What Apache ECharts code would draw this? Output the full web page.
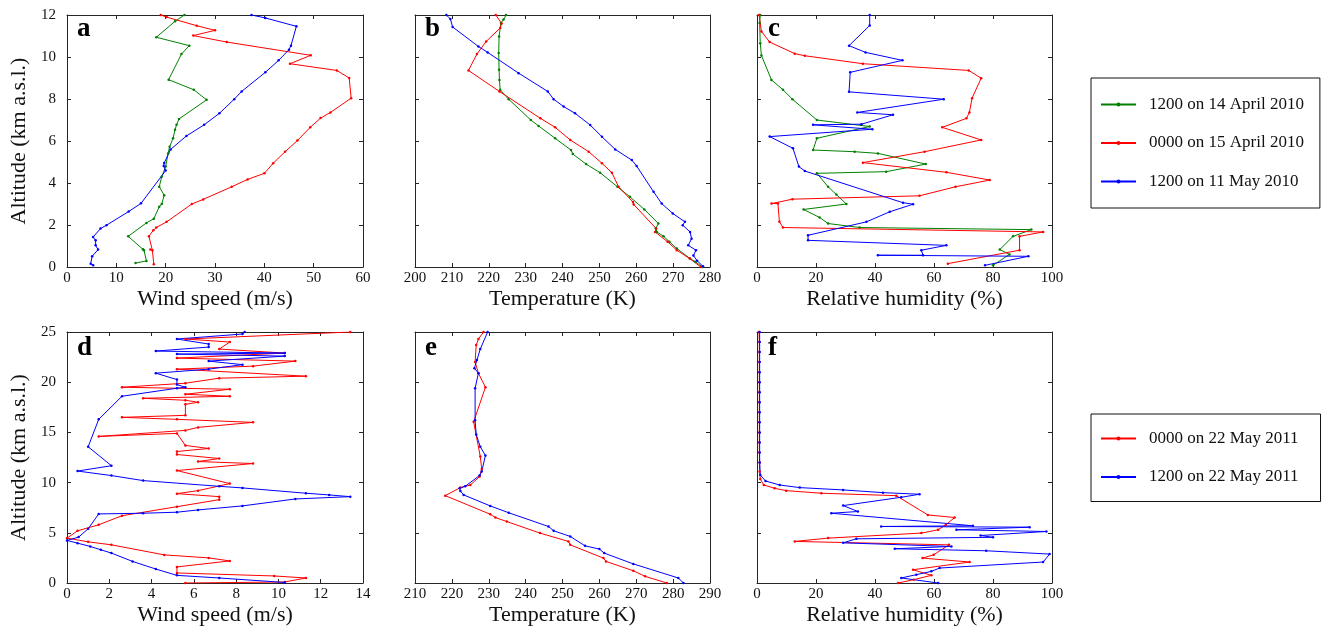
<!DOCTYPE html>
<html><head><meta charset="utf-8">
<script src="https://cdn.jsdelivr.net/npm/echarts@6/dist/echarts.min.js"></script>
<style>html,body{margin:0;padding:0;background:#fff}#c{width:1323px;height:628px}</style>
</head><body><div id="c"></div>
<script>
// ---------- legend names ----------
const names2010 = ['1200 on 14 April 2010', '0000 on 15 April 2010', '1200 on 11 May 2010'];
const names2011 = ['0000 on 22 May 2011', '1200 on 22 May 2011'];
const panelLetters = ['a', 'b', 'c', 'd', 'e', 'f'];
const xNames = ['Wind speed (m/s)', 'Temperature (K)', 'Relative humidity (%)', 'Wind speed (m/s)', 'Temperature (K)', 'Relative humidity (%)'];
const yName = 'Altitude (km a.s.l.)';
// [min, max, interval]
const xRanges = [[0, 60, 10], [200, 280, 10], [0, 100, 20], [0, 14, 2], [210, 290, 10], [0, 100, 20]];
const yRangeTop = [0, 12, 2];
const yRangeBottom = [0, 25, 5];

// ---------- panel a: wind speed (m/s), altitude (km) ----------
const windA_1404 = [[13.9,0.19],[16.1,0.29],[15.6,0.8],[15.4,0.85],[12.4,1.46],[16.1,2.1],[17.6,2.3],[18.7,2.87],[19.2,3.0],[19.7,3.42],[18.7,3.82],[19.2,4.3],[20.0,4.78],[20.5,5.41],[20.8,5.73],[21.5,6.13],[21.9,6.53],[22.2,6.77],[22.7,7.05],[28.3,7.96],[25.7,8.44],[20.6,8.92],[23.2,10.14],[24.8,10.54],[18.1,10.94],[21.9,11.7],[23.8,12.0]];
const windA_1504 = [[17.6,0.13],[17.3,0.8],[16.9,0.83],[16.6,1.46],[17.5,1.75],[18.1,1.88],[20.2,2.15],[25.3,3.0],[27.6,3.22],[33.4,3.82],[36.6,4.17],[40.0,4.46],[41.8,4.94],[44.2,5.49],[46.7,6.02],[49.3,6.65],[51.4,7.09],[53.4,7.36],[57.6,8.04],[57.2,9.0],[54.7,9.36],[45.2,9.68],[49.4,10.08],[32.4,10.71],[25.6,11.02],[30.0,11.27],[26.3,11.49],[20.2,11.9],[19.0,12.0]];
const windA_1105 = [[5.3,0.08],[4.8,0.16],[5.1,0.51],[6.3,0.83],[5.8,1.03],[5.8,1.27],[5.3,1.43],[6.8,1.83],[8.0,1.99],[12.5,2.64],[15.0,3.03],[20.0,4.59],[19.6,4.81],[19.7,4.95],[21.0,5.6],[24.2,6.24],[27.8,6.77],[30.9,7.32],[33.9,7.99],[35.4,8.36],[40.2,9.27],[42.9,9.84],[45.0,10.35],[45.4,10.54],[46.5,11.46],[40.2,11.86],[37.4,12.0]];

// ---------- panel b: temperature (K) ----------
const tempB_1404 = [[278.0,0.0],[276.0,0.25],[274.6,0.4],[271.0,0.88],[269.0,1.2],[267.4,1.46],[265.6,1.67],[265.3,1.85],[266.0,2.07],[262.2,2.74],[258.3,3.34],[254.9,3.82],[250.2,4.49],[246.4,4.9],[242.8,5.38],[242.3,5.57],[238.0,6.13],[233.5,6.72],[231.4,7.0],[225.4,7.99],[223.1,8.44],[222.9,8.91],[222.8,9.39],[222.7,10.19],[222.8,10.98],[223.3,11.62],[224.0,11.78],[224.7,12.0]];
const tempB_1504 = [[277.5,0.0],[274.5,0.4],[271.0,0.8],[268.5,1.2],[265.1,1.67],[265.4,1.83],[259.3,2.98],[259.1,3.1],[255.2,3.82],[253.4,4.49],[250.7,4.94],[247.1,5.49],[242.1,6.05],[238.0,6.65],[234.0,7.08],[222.9,8.36],[214.5,9.36],[216.8,10.14],[219.3,10.74],[223.1,11.38],[223.5,11.6],[221.9,12.0]];
const tempB_1105 = [[278.1,0.03],[276.5,0.3],[275.5,0.55],[276.2,0.8],[274.1,1.03],[275.0,1.35],[274.6,1.67],[272.6,1.99],[273.2,2.15],[269.9,2.55],[266.9,3.02],[264.7,3.58],[260.1,4.81],[258.8,5.09],[254.3,5.6],[250.7,6.2],[247.5,6.76],[243.4,7.32],[240.3,7.64],[237.6,7.99],[236.0,8.36],[228.1,9.23],[219.7,10.22],[217.2,10.5],[210.2,11.43],[209.6,11.81],[208.5,12.0]];

// ---------- panel c: relative humidity (%) ----------
const rhC_1404 = [[80.0,0.08],[85.6,0.6],[82.3,0.83],[86.8,1.46],[93.0,1.78],[34.8,1.88],[24.1,2.07],[21.2,2.36],[15.8,2.74],[30.3,3.0],[26.9,3.45],[24.1,3.82],[20.3,4.46],[43.8,4.54],[57.2,4.9],[41.0,5.41],[33.1,5.49],[19.0,5.57],[20.3,6.13],[38.2,6.69],[20.3,7.0],[12.0,7.99],[8.8,8.44],[4.9,8.91],[1.5,10.07],[1.1,10.66],[0.9,11.62],[1.1,12.0]];
const rhC_1504 = [[64.7,0.16],[89.0,0.8],[89.0,1.46],[97.0,1.67],[8.8,1.88],[7.6,2.15],[7.1,3.02],[4.9,3.02],[12.0,3.23],[55.1,3.39],[67.3,3.82],[78.9,4.14],[64.2,4.51],[35.9,4.97],[56.8,5.49],[76.0,6.05],[62.8,6.65],[71.0,7.08],[72.0,7.36],[72.9,8.04],[76.0,8.99],[71.8,9.36],[35.9,9.68],[16.2,10.06],[12.8,10.16],[4.3,10.71],[1.5,11.22],[0.7,12.0]];
const rhC_1105 = [[77.3,0.08],[92.0,0.51],[41.0,0.56],[56.3,0.56],[55.7,0.8],[64.2,1.03],[17.3,1.27],[17.3,1.51],[37.1,2.15],[45.0,2.63],[52.9,2.99],[49.5,3.06],[16.2,4.57],[14.2,4.78],[12.2,5.65],[4.3,6.21],[39.1,6.56],[19.0,6.77],[35.4,6.8],[46.1,7.25],[34.0,7.36],[63.3,7.99],[31.2,8.34],[31.6,9.27],[49.3,9.84],[36.8,10.22],[31.2,10.54],[38.2,11.5],[38.2,12.0]];

// ---------- panel d: wind speed (m/s), 22 May 2011 ----------
const windD_0000 = [[5.6,0.0],[10.3,0.1],[11.3,0.5],[9.8,0.7],[5.2,1.0],[5.2,1.6],[7.7,2.2],[6.7,2.5],[4.6,2.8],[2.1,3.8],[1.0,4.1],[0.0,4.47],[0.5,5.2],[1.5,5.8],[2.6,6.7],[5.2,7.6],[7.2,8.3],[7.2,8.6],[5.2,8.9],[6.2,9.2],[7.7,9.9],[5.2,11.2],[8.8,11.9],[6.2,12.1],[7.2,12.4],[5.2,12.8],[5.2,13.1],[6.7,13.4],[5.6,13.7],[5.2,14.9],[1.5,14.6],[5.6,15.2],[6.2,15.5],[8.8,16.0],[5.2,16.3],[2.6,16.5],[5.6,16.7],[5.6,17.8],[6.2,18.0],[5.6,18.2],[3.6,18.4],[7.7,18.6],[5.6,18.8],[7.7,19.3],[2.6,19.5],[5.6,19.9],[7.2,20.4],[11.3,20.6],[5.2,21.3],[8.8,21.6],[10.8,22.1],[5.2,22.4],[10.3,22.9],[7.2,23.3],[7.7,24.0],[5.6,24.3],[13.4,25.0]];
const windD_1200 = [[10.3,0.05],[7.2,0.5],[5.2,0.76],[4.2,1.39],[3.1,2.15],[2.1,2.98],[1.6,3.31],[1.1,3.64],[0.5,3.97],[0.0,4.24],[0.55,4.57],[1.0,5.4],[1.5,6.88],[3.6,6.95],[5.2,7.05],[6.2,7.28],[8.3,7.68],[10.8,8.37],[13.4,8.6],[12.4,8.77],[11.3,8.94],[8.3,9.47],[7.2,9.63],[3.6,10.2],[2.1,10.7],[0.5,11.15],[2.1,11.68],[1.0,13.57],[1.5,16.3],[2.6,18.6],[5.2,19.4],[5.6,19.5],[5.2,19.76],[5.2,20.26],[4.2,20.9],[6.7,21.3],[8.3,21.75],[6.7,22.1],[10.3,22.6],[5.2,22.8],[10.3,22.9],[4.2,23.1],[6.7,23.5],[6.7,23.8],[5.2,24.3],[8.3,24.8],[8.4,25.0]];

// ---------- panel e: temperature (K), 22 May 2011 ----------
const tempE_0000 = [[278.3,0.0],[272.4,0.66],[269.2,1.22],[261.8,2.15],[261.1,2.48],[252.1,3.8],[251.6,4.14],[243.9,4.97],[234.9,6.12],[231.8,6.52],[230.4,6.85],[218.2,8.7],[222.3,9.5],[225.0,9.76],[227.5,10.6],[228.1,11.35],[227.7,12.6],[225.9,16.05],[229.1,19.5],[227.2,20.9],[226.3,22.0],[226.6,23.7],[227.2,24.3],[228.6,25.0]];
const tempE_1200 = [[282.8,0.0],[281.4,0.5],[269.2,1.9],[261.3,2.98],[260.0,3.38],[256.1,3.7],[252.1,4.64],[247.6,5.2],[246.2,5.63],[235.4,7.0],[230.4,7.68],[223.2,8.77],[222.3,9.17],[222.1,9.43],[223.6,9.63],[227.5,10.7],[228.1,11.1],[229.1,12.7],[227.7,13.57],[226.6,14.8],[226.3,16.2],[226.3,19.4],[227.2,20.9],[226.1,21.4],[226.8,22.2],[227.7,23.3],[229.7,25.0]];

// ---------- panel f: relative humidity (%), 22 May 2011 ----------
const rhF_0000 = [[47.8,0.0],[53.1,0.33],[59.1,0.76],[52.9,1.32],[72.1,2.09],[56.1,2.48],[59.9,2.81],[65.1,3.8],[12.8,4.14],[24.1,4.47],[55.7,4.97],[61.4,5.3],[64.0,5.8],[67.0,6.52],[57.9,6.78],[47.2,8.7],[21.8,8.94],[9.9,9.2],[6.0,9.43],[2.3,9.76],[1.1,10.36],[0.9,11.1],[0.9,12],[0.8,13],[0.8,14],[0.8,15],[0.8,16],[0.8,17],[0.8,18],[0.8,19],[0.8,20],[0.8,21],[0.8,22],[0.8,23],[0.8,24],[0.7,25]];
const rhF_1200 = [[61.4,0.0],[48.9,0.5],[54.0,0.83],[59.1,1.16],[61.9,1.49],[97.0,2.09],[99.2,2.88],[77.7,3.21],[46.7,3.41],[65.9,3.64],[29.2,4.0],[33.7,4.4],[80.0,4.55],[75.8,4.73],[98.1,5.13],[67.6,5.3],[92.4,5.56],[42.1,5.63],[73.2,5.7],[25.2,6.95],[34.2,7.12],[29.2,7.71],[48.9,8.54],[55.1,8.84],[42.7,9.0],[29.2,9.27],[14.5,9.5],[7.7,9.76],[2.9,10.16],[1.1,10.76],[0.9,12],[0.9,13],[0.9,14],[0.9,15],[0.9,16],[0.9,17],[0.9,18],[0.9,19],[0.9,20],[0.9,21],[0.9,22],[0.9,23],[0.9,24],[0.9,25]];

// ---------- styling / layout ----------
const FONT = '"Liberation Serif", "Times New Roman", serif';
const AXC = '#262626';
const TXT = '#111';
const GREEN = '#008000', RED = '#ff0000', BLUE = '#0000ff';

const gridBoxes = [
  {left: 67, top: 15, width: 296, height: 252},
  {left: 415, top: 15, width: 295, height: 252},
  {left: 757, top: 15, width: 295, height: 252},
  {left: 67, top: 332, width: 296, height: 251},
  {left: 415, top: 332, width: 295, height: 251},
  {left: 757, top: 332, width: 295, height: 251}
];
const letterPos = [[77, 29], [425, 29], [768, 29], [77, 348], [425, 348], [768, 348]];

const seriesDefs = [
  [0, names2010[0], GREEN, windA_1404], [0, names2010[1], RED, windA_1504], [0, names2010[2], BLUE, windA_1105],
  [1, names2010[0], GREEN, tempB_1404], [1, names2010[1], RED, tempB_1504], [1, names2010[2], BLUE, tempB_1105],
  [2, names2010[0], GREEN, rhC_1404], [2, names2010[1], RED, rhC_1504], [2, names2010[2], BLUE, rhC_1105],
  [3, names2011[0], RED, windD_0000], [3, names2011[1], BLUE, windD_1200],
  [4, names2011[0], RED, tempE_0000], [4, names2011[1], BLUE, tempE_1200],
  [5, names2011[0], RED, rhF_0000], [5, names2011[1], BLUE, rhF_1200]
];

const grid = [], xAxis = [], yAxis = [];
const lineCfg = {show: true, onZero: false, lineStyle: {color: AXC, width: 1}};
const tickCfg = {show: true, inside: true, length: 4, lineStyle: {color: AXC, width: 1}};
gridBoxes.forEach((g, i) => {
  grid.push(Object.assign({outerBoundsMode: 'none', containLabel: false, show: false}, g));
  const xr = xRanges[i];
  const yr = i < 3 ? yRangeTop : yRangeBottom;
  const leftCol = (i % 3 === 0);
  xAxis.push({
    gridIndex: i, type: 'value', position: 'bottom', min: xr[0], max: xr[1], interval: xr[2],
    axisLine: lineCfg, axisTick: tickCfg, splitLine: {show: false},
    axisLabel: {show: true, margin: 4, fontFamily: FONT, fontSize: 15, color: TXT, showMinLabel: true, showMaxLabel: true},
    name: xNames[i], nameLocation: 'middle', nameGap: 21,
    nameTextStyle: {fontFamily: FONT, fontSize: 22, color: TXT}
  });
  xAxis.push({
    gridIndex: i, type: 'value', position: 'top', min: xr[0], max: xr[1], interval: xr[2],
    axisLine: lineCfg, axisTick: tickCfg, splitLine: {show: false}, axisLabel: {show: false}
  });
  yAxis.push({
    gridIndex: i, type: 'value', position: 'left', min: yr[0], max: yr[1], interval: yr[2],
    axisLine: lineCfg, axisTick: tickCfg, splitLine: {show: false},
    axisLabel: {show: leftCol, margin: 11, fontFamily: FONT, fontSize: 15, color: TXT},
    name: leftCol ? yName : '', nameLocation: 'middle', nameGap: 37,
    nameTextStyle: {fontFamily: FONT, fontSize: 22, color: TXT}
  });
  yAxis.push({
    gridIndex: i, type: 'value', position: 'right', min: yr[0], max: yr[1], interval: yr[2],
    axisLine: lineCfg, axisTick: tickCfg, splitLine: {show: false}, axisLabel: {show: false}
  });
});

const series = seriesDefs.map(([p, name, color, data]) => ({
  type: 'line', name, data,
  xAxisIndex: 2 * p, yAxisIndex: 2 * p,
  symbol: 'circle', symbolSize: 2.5, showSymbol: true,
  lineStyle: {width: 1, color}, itemStyle: {color},
  emphasis: {disabled: true}, animation: false
}));

const legendBase = {
  orient: 'vertical', left: 1091, selectedMode: false,
  borderColor: '#111', borderWidth: 1, backgroundColor: '#fff',
  itemWidth: 35, itemHeight: 5, itemGap: 21.5,
  textStyle: {fontFamily: FONT, fontSize: 17, color: TXT, padding: [0, 0, 0, 8]}
};

const option = {
  backgroundColor: '#fff',
  animation: false,
  grid, xAxis, yAxis, series,
  legend: [
    Object.assign({}, legendBase, {data: names2010, top: 78, padding: [18, 16, 18, 9]}),
    Object.assign({}, legendBase, {data: names2011, top: 414, padding: [16, 22, 16, 9]})
  ],
  graphic: panelLetters.map((L, i) => ({
    type: 'text', x: letterPos[i][0], y: letterPos[i][1], z: 10,
    style: {text: L, font: 'bold 27px ' + FONT, fill: '#000', verticalAlign: 'middle', align: 'left'}
  }))
};

const chart = echarts.init(document.getElementById('c'), null, {renderer: 'canvas'});
chart.setOption(option);
</script>
</body></html>
